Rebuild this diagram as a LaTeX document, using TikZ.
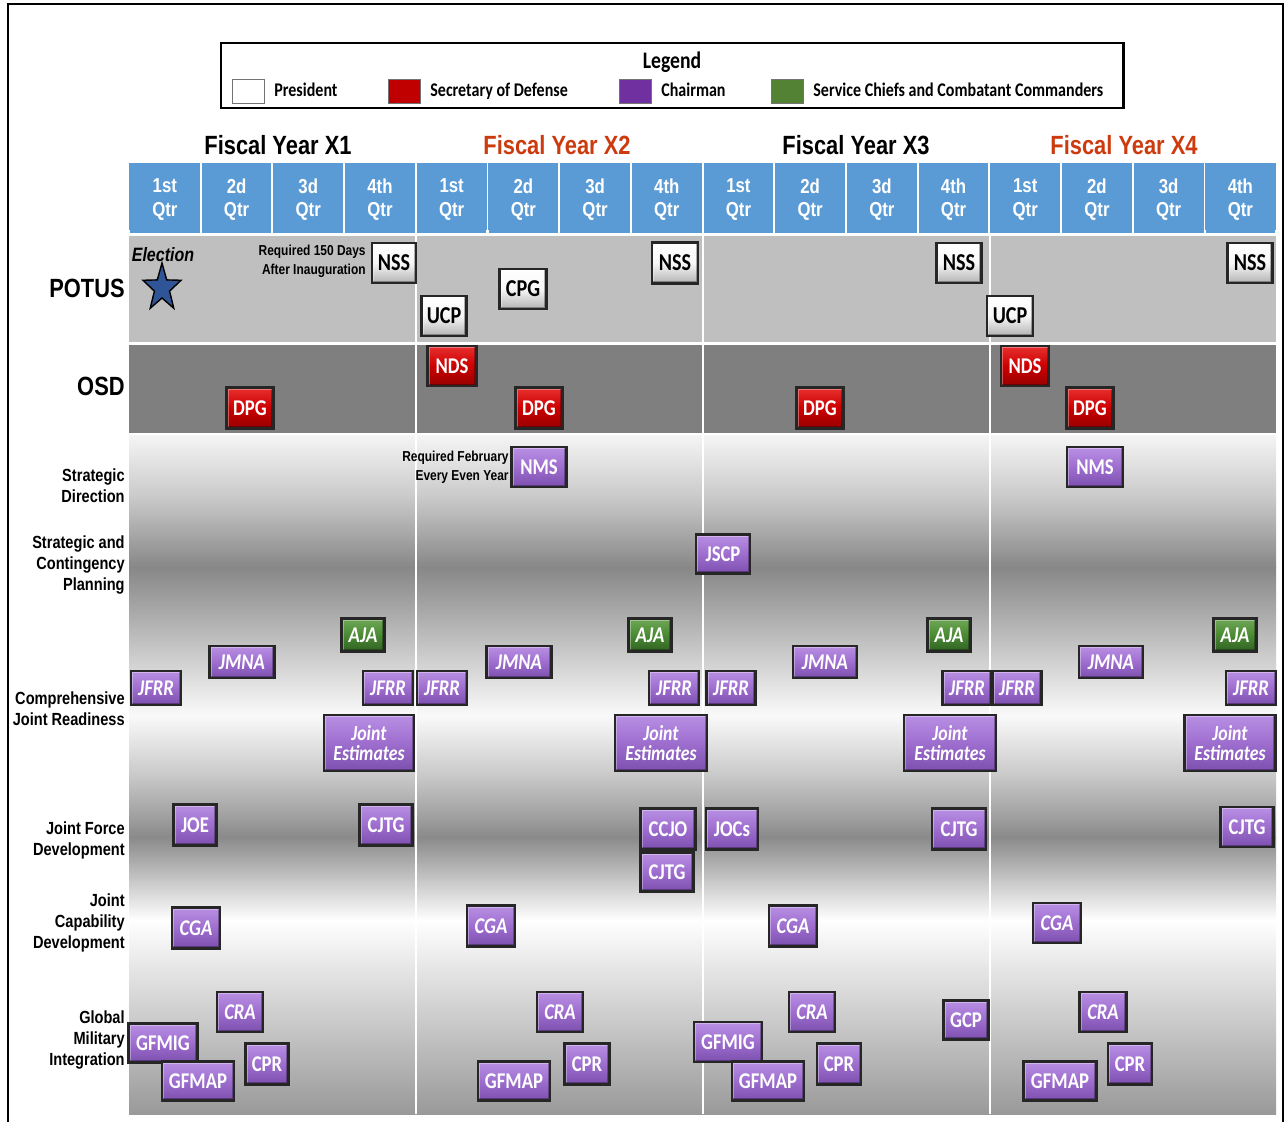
\documentclass[tikz,border=0pt]{standalone}
\usepackage{fontspec}
\setmainfont{Liberation Sans}[FakeStretch=0.83]
\newfontfamily\btnfont{Carlito}[FakeStretch=0.83]
\usetikzlibrary{shapes.geometric}

\definecolor{qtrblue}{HTML}{5B9BD5}
\definecolor{potusgray}{HTML}{BFBFBF}
\definecolor{osdgray}{HTML}{7F7F7F}
\definecolor{fyorange}{HTML}{CC3A0E}
\definecolor{legpurple}{HTML}{7030A0}
\definecolor{legred}{HTML}{C00000}
\definecolor{leggreen}{HTML}{548235}
\definecolor{starblue}{HTML}{2F5597}
\definecolor{purptop}{HTML}{B990E4}
\definecolor{purpmid}{HTML}{9E6ECF}
\definecolor{purpbot}{HTML}{7C4FAE}
\definecolor{redtop}{HTML}{E83030}
\definecolor{redmid}{HTML}{CC0000}
\definecolor{redbot}{HTML}{960000}
\definecolor{grntop}{HTML}{70A858}
\definecolor{grnmid}{HTML}{4A8A33}
\definecolor{grnbot}{HTML}{316222}

\begin{document}
\begin{tikzpicture}
[
x=0.02cm, y=-0.02cm,
btnbox/.style={draw=black!85, line width=1.3pt, inner sep=0pt, text=white, align=center, font=\btnfont\bfseries\fontsize{12.8}{11}\selectfont,
  path picture={
    \draw[white, opacity=0.35, line width=2.4pt] (path picture bounding box.south west) -- (path picture bounding box.north west) -- (path picture bounding box.north east);
    \draw[black, opacity=0.3, line width=2.4pt] (path picture bounding box.north east) -- (path picture bounding box.south east) -- (path picture bounding box.south west);
  }},
boxsize/.style 2 args={minimum width=#1*0.2mm, minimum height=#2*0.2mm},
presbox/.style={btnbox, top color=white, bottom color=black!30, middle color=black!3, text=black, font=\btnfont\bfseries\fontsize{13.8}{13.8}\selectfont},
osdbox/.style={btnbox, top color=redtop, bottom color=redbot, middle color=redmid},
cjcsbox/.style={btnbox, top color=purptop, bottom color=purpbot, middle color=purpmid},
cjcsital/.style={cjcsbox, font=\btnfont\bfseries\itshape\fontsize{12.8}{11}\selectfont},
estbox/.style={cjcsbox, font=\btnfont\bfseries\itshape\fontsize{12.2}{11.6}\selectfont},
svcbox/.style={btnbox, top color=grntop, bottom color=grnbot, middle color=grnmid, font=\btnfont\bfseries\itshape\fontsize{12.8}{11}\selectfont},
qtrcell/.style={fill=qtrblue, text=white, minimum width=69.7*0.2mm, minimum height=67*0.2mm, inner sep=0pt, align=center, font=\bfseries\fontsize{11.5}{13.4}\selectfont},
rowlabel/.style={anchor=east, align=right, inner sep=0pt, font=\bfseries\fontsize{10}{12}\selectfont},
bigrowlabel/.style={anchor=east, inner sep=0pt, font=\bfseries\fontsize{15}{15}\selectfont},
fytitle/.style={anchor=base, inner sep=0pt, font=\bfseries\fontsize{15}{15}\selectfont},
notetext/.style={anchor=east, align=right, inner sep=0pt, font=\bfseries\fontsize{8.2}{10.8}\selectfont},
legswatch/.style={minimum width=32*0.2mm, minimum height=24*0.2mm, inner sep=0pt, draw=black!55},
legtext/.style={anchor=base west, inner sep=0pt, font=\btnfont\bfseries\fontsize{11}{11}\selectfont}
]
\useasboundingbox (0,0) rectangle (1286,1122);
%Frame
\draw[line width=1.6pt] (8,1122) -- (8,4) -- (1283,4) -- (1283,1122);

%Legend
\draw[line width=1.7pt] (221,43) rectangle (1123,108);
\node[font=\btnfont\bfseries\fontsize{13.5}{13.5}\selectfont] (legtitle) at (672,62) {Legend};
\node[legswatch, fill=white] (swpres) at (248,91) {};
\node[legtext] (txpres) at (274,97) {President};
\node[legswatch, fill=legred] (swsecdef) at (404,91) {};
\node[legtext] (txsecdef) at (430,97) {Secretary of Defense};
\node[legswatch, fill=legpurple] (swcjcs) at (635,91) {};
\node[legtext] (txcjcs) at (661,97) {Chairman};
\node[legswatch, fill=leggreen] (swsvc) at (787,91) {};
\node[legtext] (txsvc) at (813,97) {Service Chiefs and Combatant Commanders};

%Fiscal years and quarters
\node[fytitle] (fy1) at (278,154) {Fiscal Year X1};
\node[fytitle, text=fyorange] (fy2) at (557,154) {Fiscal Year X2};
\node[fytitle] (fy3) at (856,154) {Fiscal Year X3};
\node[fytitle, text=fyorange] (fy4) at (1124,154) {Fiscal Year X4};
\fill[qtrblue] (129,163) rectangle (1276,230);
\foreach \yr in {0,...,3}
  \foreach \q [count=\k from 0] in {1st,2d,3d,4th}
    \node[qtrcell] (q\yr\k) at ({164.85+71.7*(4*\yr+\k)},199.5) {\q\\Qtr};
\foreach \k in {1,...,15}
  \draw[white, line width=1.1pt] ({129+71.7*\k},163) -- ({129+71.7*\k},230);

%Rows
\fill[potusgray] (129,236) rectangle (1276,342);
\fill[osdgray] (129,345) rectangle (1276,433);
\foreach \ya/\yb/\ca/\cb in {435/500/96/78, 500/567/78/53, 567/630/53/72, 630/715/72/98, 715/780/98/77, 780/837/77/54, 837/880/54/78, 880/920/78/100, 920/1114/100/60}
  \shade[top color=white!\ca!black, bottom color=white!\cb!black] (129,\ya) rectangle (1276,\yb+0.6);
\foreach \xl in {416,703,990}
  \draw[white, line width=1.2pt] (\xl,236) -- (\xl,1114);

%Row labels
\node[bigrowlabel] (potus) at (125,288) {POTUS};
\node[bigrowlabel] (osd) at (125,386) {OSD};
\node[rowlabel] (stratdir) at (125,486) {Strategic\\Direction};
\node[rowlabel] (stratplan) at (125,565) {Strategic and\\Contingency\\Planning};
\node[rowlabel] (cjr) at (125,709) {Comprehensive\\Joint Readiness};
\node[rowlabel] (jfd) at (125,840) {Joint Force\\Development};
\node[rowlabel] (jcd) at (125,923) {Joint\\Capability\\Development};
\node[rowlabel] (gmi) at (125,1040) {Global\\Military\\Integration};

%POTUS
\node[inner sep=0pt, font=\bfseries\itshape\fontsize{11}{11}\selectfont] (election) at (163,255) {Election};
\draw[fill=starblue, line width=0.8pt] plot[samples at={0,...,9}]
  ({162+(iseven(\x)?20:8)*cos(90+36*\x)}, {288-(iseven(\x)?25:10)*sin(90+36*\x)}) -- cycle;
\node[notetext] (note150) at (366,261) {Required 150 Days\\After Inauguration};
\node[presbox, boxsize={44}{40}] at(394,263)   (nss1) {NSS};
\node[presbox, boxsize={45}{40}] at(444,316)   (ucp2) {UCP};
\node[presbox, boxsize={47}{40}] at(523,289)   (cpg2) {CPG};
\node[presbox, boxsize={46}{41}] at(675,263)   (nss2) {NSS};
\node[presbox, boxsize={45}{40}] at(959,263)   (nss3) {NSS};
\node[presbox, boxsize={46}{40}] at(1010,316)  (ucp4) {UCP};
\node[presbox, boxsize={45}{40}] at(1250,263)  (nss4) {NSS};

%OSD
\node[osdbox, boxsize={47}{41}] at(250,408)   (dpg1) {DPG};
\node[osdbox, boxsize={49}{40}] at(452,366)   (nds2) {NDS};
\node[osdbox, boxsize={47}{41}] at(539,408)   (dpg2) {DPG};
\node[osdbox, boxsize={47}{41}] at(820,408)   (dpg3) {DPG};
\node[osdbox, boxsize={48}{40}] at(1025,366)  (nds4) {NDS};
\node[osdbox, boxsize={47}{41}] at(1090,408)  (dpg4) {DPG};

%Strategic direction and planning
\node[notetext] (notefeb) at (509,467) {Required February\\Every Even Year};
\node[cjcsbox, boxsize={55}{40}] at(539,467)   (nms2) {NMS};
\node[cjcsbox, boxsize={56}{40}] at(1095,467)  (nms4) {NMS};
\node[cjcsbox, boxsize={54}{39}] at(723,554)   (jscp3) {JSCP};

%Comprehensive joint readiness
\node[svcbox, boxsize={43}{33}] at(363,635)   (aja1) {AJA};
\node[svcbox, boxsize={43}{33}] at(650,635)   (aja2) {AJA};
\node[svcbox, boxsize={43}{33}] at(949,635)   (aja3) {AJA};
\node[svcbox, boxsize={43}{33}] at(1235,635)  (aja4) {AJA};
\node[cjcsital, boxsize={65}{32}] at(242,662)   (jmna1) {JMNA};
\node[cjcsital, boxsize={65}{32}] at(519,662)   (jmna2) {JMNA};
\node[cjcsital, boxsize={64}{32}] at(825,662)   (jmna3) {JMNA};
\node[cjcsital, boxsize={64}{32}] at(1111,662)  (jmna4) {JMNA};
\node[cjcsital, boxsize={50}{34}] at(156,688)   (jfrr1a) {JFRR};
\node[cjcsital, boxsize={50}{34}] at(388,688)   (jfrr1b) {JFRR};
\node[cjcsital, boxsize={50}{34}] at(442,688)   (jfrr2a) {JFRR};
\node[cjcsital, boxsize={50}{34}] at(674,688)   (jfrr2b) {JFRR};
\node[cjcsital, boxsize={49}{34}] at(731,688)   (jfrr3a) {JFRR};
\node[cjcsital, boxsize={49}{34}] at(967,688)   (jfrr3b) {JFRR};
\node[cjcsital, boxsize={49}{34}] at(1017,688)  (jfrr4a) {JFRR};
\node[cjcsital, boxsize={50}{34}] at(1251,688)  (jfrr4b) {JFRR};
\node[estbox, boxsize={90}{56}] at(369,743)   (je1) {Joint\\Estimates};
\node[estbox, boxsize={92}{56}] at(661,743)   (je2) {Joint\\Estimates};
\node[estbox, boxsize={92}{56}] at(950,743)   (je3) {Joint\\Estimates};
\node[estbox, boxsize={91}{56}] at(1230,743)  (je4) {Joint\\Estimates};

%Joint force development
\node[cjcsbox, boxsize={43}{41}] at(195,825)   (joe1) {JOE};
\node[cjcsbox, boxsize={53}{41}] at(386,825)   (cjtg1) {CJTG};
\node[cjcsbox, boxsize={55}{41}] at(668,829)   (ccjo2) {CCJO};
\node[cjcsbox, boxsize={53}{39}] at(667,872)   (cjtg2) {CJTG};
\node[cjcsbox, boxsize={52}{41}] at(732,829)   (jocs3) {JOCs};
\node[cjcsbox, boxsize={54}{41}] at(959,829)   (cjtg3) {CJTG};
\node[cjcsbox, boxsize={53}{40}] at(1247,827)  (cjtg4) {CJTG};

%Joint capability development
\node[cjcsital, boxsize={48}{41}] at(196,928)   (cga1) {CGA};
\node[cjcsital, boxsize={48}{41}] at(491,926)   (cga2) {CGA};
\node[cjcsital, boxsize={48}{41}] at(793,926)   (cga3) {CGA};
\node[cjcsital, boxsize={48}{40}] at(1057,923)  (cga4) {CGA};

%Global military integration
\node[cjcsital, boxsize={46}{40}] at(240,1012)  (cra1) {CRA};
\node[cjcsbox, boxsize={69}{39}] at(163,1043)   (gfmig1) {GFMIG};
\node[cjcsbox, boxsize={72}{39}] at(198,1081)   (gfmap1) {GFMAP};
\node[cjcsbox, boxsize={43}{41}] at(267,1064)   (cpr1) {CPR};
\node[cjcsital, boxsize={46}{40}] at(560,1012)  (cra2) {CRA};
\node[cjcsbox, boxsize={72}{39}] at(514,1081)   (gfmap2) {GFMAP};
\node[cjcsbox, boxsize={45}{41}] at(587,1064)   (cpr2) {CPR};
\node[cjcsbox, boxsize={68}{40}] at(728,1042)   (gfmig3) {GFMIG};
\node[cjcsbox, boxsize={72}{39}] at(768,1081)   (gfmap3) {GFMAP};
\node[cjcsital, boxsize={46}{40}] at(812,1012)  (cra3) {CRA};
\node[cjcsbox, boxsize={44}{41}] at(839,1064)   (cpr3) {CPR};
\node[cjcsbox, boxsize={45}{39}] at(966,1020)   (gcp3) {GCP};
\node[cjcsital, boxsize={47}{40}] at(1103,1012) (cra4) {CRA};
\node[cjcsbox, boxsize={73}{39}] at(1060,1081)  (gfmap4) {GFMAP};
\node[cjcsbox, boxsize={44}{41}] at(1130,1064)  (cpr4) {CPR};
\end{tikzpicture}
\end{document}
